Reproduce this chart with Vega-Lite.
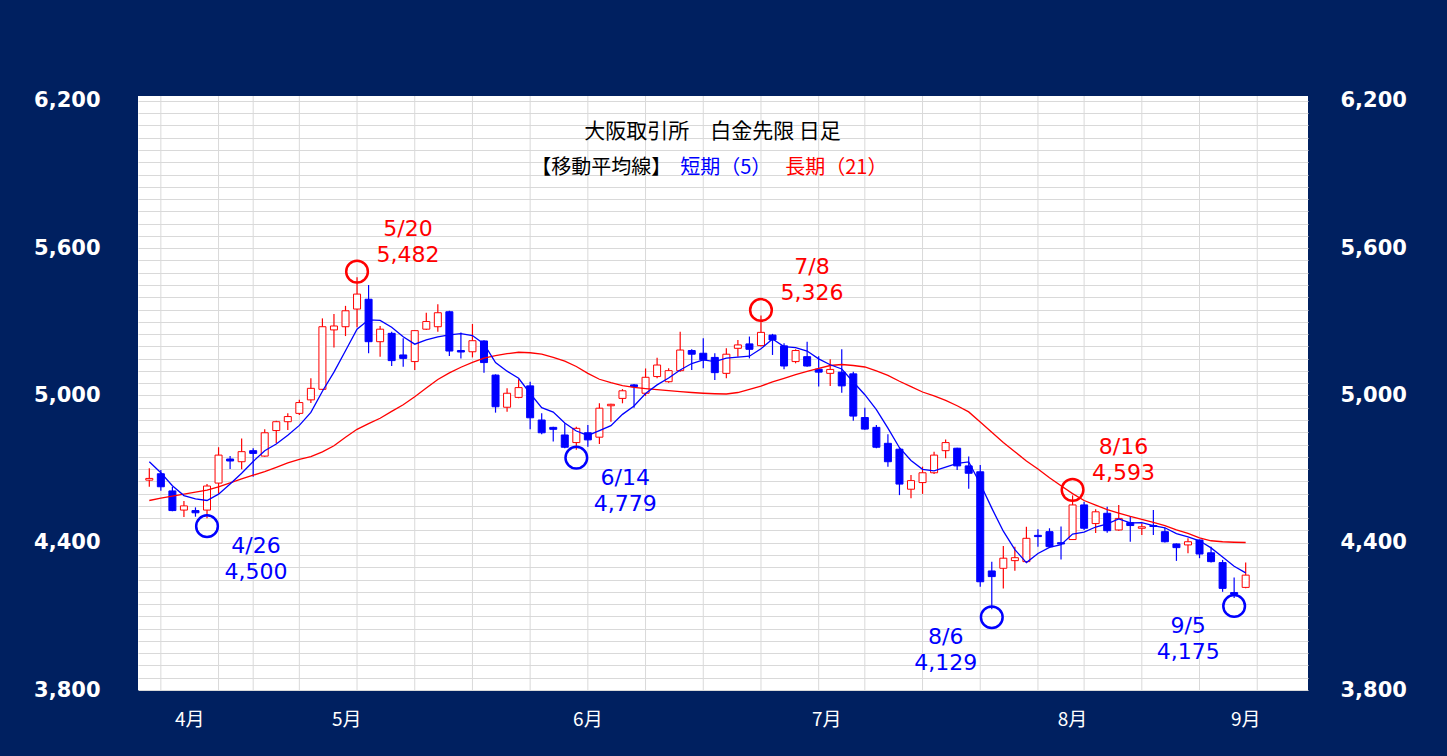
{
  "$schema": "https://vega.github.io/schema/vega-lite/v6.json",
  "width": 1170,
  "height": 594,
  "autosize": {"type": "none"},
  "padding": {"left": 138, "top": 96, "right": 139, "bottom": 66},
  "background": "#002060",
  "view": {"fill": "#ffffff", "stroke": null},
  "config": {"font": "DejaVu Sans"},
  "datasets": {
    "ohlc": [
      {"date":"4/19","i":0,"open":4655,"high":4703,"low":4628,"close":4662,"ma5":4730,"ma21":4572},
      {"date":"4/22","i":1,"open":4681,"high":4696,"low":4612,"close":4628,"ma5":4685,"ma21":4582},
      {"date":"4/23","i":2,"open":4611,"high":4628,"low":4528,"close":4531,"ma5":4632,"ma21":4590},
      {"date":"4/24","i":3,"open":4533,"high":4570,"low":4505,"close":4550,"ma5":4592,"ma21":4598},
      {"date":"4/25","i":4,"open":4531,"high":4544,"low":4506,"close":4522,"ma5":4579,"ma21":4606},
      {"date":"4/26","i":5,"open":4533,"high":4639,"low":4500,"close":4631,"ma5":4572,"ma21":4614},
      {"date":"4/30","i":6,"open":4643,"high":4789,"low":4600,"close":4757,"ma5":4598,"ma21":4628},
      {"date":"5/1","i":7,"open":4741,"high":4753,"low":4700,"close":4733,"ma5":4639,"ma21":4644},
      {"date":"5/2","i":8,"open":4730,"high":4825,"low":4699,"close":4771,"ma5":4683,"ma21":4660},
      {"date":"5/7","i":9,"open":4775,"high":4785,"low":4669,"close":4764,"ma5":4731,"ma21":4675},
      {"date":"5/8","i":10,"open":4753,"high":4862,"low":4750,"close":4848,"ma5":4775,"ma21":4690},
      {"date":"5/9","i":11,"open":4857,"high":4897,"low":4805,"close":4893,"ma5":4802,"ma21":4707},
      {"date":"5/10","i":12,"open":4893,"high":4927,"low":4859,"close":4914,"ma5":4838,"ma21":4725},
      {"date":"5/13","i":13,"open":4927,"high":4982,"low":4920,"close":4971,"ma5":4878,"ma21":4740},
      {"date":"5/14","i":14,"open":4982,"high":5070,"low":4969,"close":5029,"ma5":4931,"ma21":4751},
      {"date":"5/15","i":15,"open":5025,"high":5314,"low":5022,"close":5280,"ma5":5017,"ma21":4770},
      {"date":"5/16","i":16,"open":5267,"high":5332,"low":5195,"close":5283,"ma5":5095,"ma21":4795},
      {"date":"5/17","i":17,"open":5280,"high":5365,"low":5242,"close":5345,"ma5":5182,"ma21":4830},
      {"date":"5/20","i":18,"open":5352,"high":5482,"low":5278,"close":5413,"ma5":5270,"ma21":4862},
      {"date":"5/21","i":19,"open":5392,"high":5450,"low":5172,"close":5219,"ma5":5308,"ma21":4885},
      {"date":"5/22","i":20,"open":5219,"high":5283,"low":5158,"close":5270,"ma5":5306,"ma21":4907},
      {"date":"5/23","i":21,"open":5253,"high":5260,"low":5120,"close":5142,"ma5":5278,"ma21":4935},
      {"date":"5/24","i":22,"open":5165,"high":5233,"low":5117,"close":5151,"ma5":5239,"ma21":4962},
      {"date":"5/27","i":23,"open":5138,"high":5266,"low":5104,"close":5264,"ma5":5209,"ma21":4995},
      {"date":"5/28","i":24,"open":5270,"high":5337,"low":5267,"close":5301,"ma5":5226,"ma21":5030},
      {"date":"5/29","i":25,"open":5280,"high":5372,"low":5260,"close":5337,"ma5":5239,"ma21":5065},
      {"date":"5/30","i":26,"open":5341,"high":5345,"low":5161,"close":5181,"ma5":5247,"ma21":5092},
      {"date":"5/31","i":27,"open":5183,"high":5256,"low":5151,"close":5177,"ma5":5252,"ma21":5115},
      {"date":"6/3","i":28,"open":5178,"high":5291,"low":5155,"close":5223,"ma5":5244,"ma21":5135},
      {"date":"6/4","i":29,"open":5222,"high":5225,"low":5093,"close":5134,"ma5":5210,"ma21":5152},
      {"date":"6/5","i":30,"open":5083,"high":5086,"low":4930,"close":4954,"ma5":5134,"ma21":5162},
      {"date":"6/6","i":31,"open":4952,"high":5029,"low":4934,"close":5009,"ma5":5099,"ma21":5170},
      {"date":"6/7","i":32,"open":4992,"high":5066,"low":4989,"close":5032,"ma5":5070,"ma21":5176},
      {"date":"6/10","i":33,"open":5039,"high":5056,"low":4862,"close":4909,"ma5":5008,"ma21":5174},
      {"date":"6/11","i":34,"open":4900,"high":4927,"low":4842,"close":4848,"ma5":4950,"ma21":5168},
      {"date":"6/12","i":35,"open":4870,"high":4873,"low":4812,"close":4862,"ma5":4932,"ma21":5155},
      {"date":"6/13","i":36,"open":4839,"high":4887,"low":4785,"close":4789,"ma5":4888,"ma21":5140},
      {"date":"6/14","i":37,"open":4808,"high":4873,"low":4779,"close":4866,"ma5":4855,"ma21":5118},
      {"date":"6/17","i":38,"open":4848,"high":4880,"low":4791,"close":4819,"ma5":4837,"ma21":5090},
      {"date":"6/18","i":39,"open":4830,"high":4968,"low":4802,"close":4948,"ma5":4857,"ma21":5066},
      {"date":"6/19","i":40,"open":4958,"high":4966,"low":4893,"close":4964,"ma5":4877,"ma21":5052},
      {"date":"6/20","i":41,"open":4988,"high":5026,"low":4968,"close":5019,"ma5":4923,"ma21":5040},
      {"date":"6/21","i":42,"open":5043,"high":5047,"low":4950,"close":5036,"ma5":4957,"ma21":5033},
      {"date":"6/24","i":43,"open":5009,"high":5110,"low":4998,"close":5074,"ma5":5008,"ma21":5028},
      {"date":"6/25","i":44,"open":5077,"high":5154,"low":5070,"close":5124,"ma5":5043,"ma21":5024},
      {"date":"6/26","i":45,"open":5056,"high":5111,"low":5052,"close":5101,"ma5":5071,"ma21":5020},
      {"date":"6/27","i":46,"open":5101,"high":5260,"low":5097,"close":5185,"ma5":5104,"ma21":5016},
      {"date":"6/28","i":47,"open":5183,"high":5188,"low":5104,"close":5168,"ma5":5130,"ma21":5012},
      {"date":"7/1","i":48,"open":5172,"high":5233,"low":5111,"close":5145,"ma5":5145,"ma21":5009},
      {"date":"7/2","i":49,"open":5155,"high":5172,"low":5063,"close":5093,"ma5":5138,"ma21":5007},
      {"date":"7/3","i":50,"open":5090,"high":5192,"low":5070,"close":5168,"ma5":5152,"ma21":5006},
      {"date":"7/4","i":51,"open":5192,"high":5226,"low":5158,"close":5206,"ma5":5156,"ma21":5012},
      {"date":"7/5","i":52,"open":5210,"high":5240,"low":5151,"close":5188,"ma5":5160,"ma21":5025},
      {"date":"7/8","i":53,"open":5203,"high":5326,"low":5199,"close":5257,"ma5":5190,"ma21":5038},
      {"date":"7/9","i":54,"open":5246,"high":5251,"low":5165,"close":5226,"ma5":5230,"ma21":5055},
      {"date":"7/10","i":55,"open":5202,"high":5213,"low":5107,"close":5120,"ma5":5199,"ma21":5070},
      {"date":"7/11","i":56,"open":5138,"high":5188,"low":5131,"close":5183,"ma5":5195,"ma21":5085},
      {"date":"7/12","i":57,"open":5158,"high":5219,"low":5117,"close":5120,"ma5":5181,"ma21":5098},
      {"date":"7/16","i":58,"open":5107,"high":5160,"low":5036,"close":5095,"ma5":5149,"ma21":5110},
      {"date":"7/17","i":59,"open":5090,"high":5147,"low":5039,"close":5106,"ma5":5125,"ma21":5122},
      {"date":"7/18","i":60,"open":5095,"high":5188,"low":5011,"close":5039,"ma5":5108,"ma21":5126},
      {"date":"7/19","i":61,"open":5088,"high":5097,"low":4897,"close":4916,"ma5":5055,"ma21":5122},
      {"date":"7/22","i":62,"open":4910,"high":4950,"low":4860,"close":4863,"ma5":5003,"ma21":5116},
      {"date":"7/23","i":63,"open":4870,"high":4880,"low":4785,"close":4789,"ma5":4942,"ma21":5100},
      {"date":"7/24","i":64,"open":4805,"high":4842,"low":4710,"close":4730,"ma5":4867,"ma21":5082},
      {"date":"7/25","i":65,"open":4781,"high":4785,"low":4594,"close":4639,"ma5":4787,"ma21":5058},
      {"date":"7/26","i":66,"open":4618,"high":4676,"low":4581,"close":4653,"ma5":4735,"ma21":5036},
      {"date":"7/29","i":67,"open":4645,"high":4710,"low":4599,"close":4685,"ma5":4699,"ma21":5014},
      {"date":"7/30","i":68,"open":4685,"high":4771,"low":4680,"close":4757,"ma5":4693,"ma21":4998},
      {"date":"7/31","i":69,"open":4775,"high":4821,"low":4744,"close":4808,"ma5":4708,"ma21":4980},
      {"date":"8/1","i":70,"open":4785,"high":4787,"low":4696,"close":4713,"ma5":4723,"ma21":4958},
      {"date":"8/2","i":71,"open":4713,"high":4751,"low":4620,"close":4683,"ma5":4729,"ma21":4933},
      {"date":"8/5","i":72,"open":4689,"high":4717,"low":4221,"close":4241,"ma5":4640,"ma21":4892},
      {"date":"8/6","i":73,"open":4285,"high":4323,"low":4129,"close":4262,"ma5":4541,"ma21":4850},
      {"date":"8/7","i":74,"open":4296,"high":4387,"low":4214,"close":4337,"ma5":4447,"ma21":4808},
      {"date":"8/8","i":75,"open":4327,"high":4384,"low":4286,"close":4339,"ma5":4372,"ma21":4771},
      {"date":"8/9","i":76,"open":4323,"high":4465,"low":4319,"close":4418,"ma5":4319,"ma21":4733},
      {"date":"8/13","i":77,"open":4430,"high":4455,"low":4384,"close":4425,"ma5":4356,"ma21":4700},
      {"date":"8/14","i":78,"open":4445,"high":4459,"low":4381,"close":4384,"ma5":4381,"ma21":4665},
      {"date":"8/15","i":79,"open":4400,"high":4466,"low":4332,"close":4395,"ma5":4392,"ma21":4632},
      {"date":"8/16","i":80,"open":4413,"high":4593,"low":4411,"close":4554,"ma5":4435,"ma21":4600},
      {"date":"8/19","i":81,"open":4554,"high":4567,"low":4452,"close":4459,"ma5":4443,"ma21":4572},
      {"date":"8/20","i":82,"open":4478,"high":4536,"low":4440,"close":4526,"ma5":4464,"ma21":4553},
      {"date":"8/21","i":83,"open":4520,"high":4547,"low":4441,"close":4449,"ma5":4477,"ma21":4535},
      {"date":"8/22","i":84,"open":4452,"high":4554,"low":4449,"close":4499,"ma5":4497,"ma21":4521},
      {"date":"8/23","i":85,"open":4482,"high":4509,"low":4404,"close":4470,"ma5":4481,"ma21":4507},
      {"date":"8/26","i":86,"open":4459,"high":4479,"low":4431,"close":4465,"ma5":4482,"ma21":4495},
      {"date":"8/27","i":87,"open":4470,"high":4533,"low":4431,"close":4466,"ma5":4470,"ma21":4483},
      {"date":"8/28","i":88,"open":4445,"high":4461,"low":4401,"close":4404,"ma5":4461,"ma21":4470},
      {"date":"8/29","i":89,"open":4395,"high":4397,"low":4326,"close":4380,"ma5":4437,"ma21":4452},
      {"date":"8/30","i":90,"open":4391,"high":4418,"low":4357,"close":4404,"ma5":4424,"ma21":4438},
      {"date":"9/2","i":91,"open":4411,"high":4413,"low":4337,"close":4354,"ma5":4408,"ma21":4420},
      {"date":"9/3","i":92,"open":4359,"high":4384,"low":4319,"close":4323,"ma5":4379,"ma21":4408},
      {"date":"9/4","i":93,"open":4319,"high":4330,"low":4200,"close":4214,"ma5":4342,"ma21":4404},
      {"date":"9/5","i":94,"open":4197,"high":4258,"low":4175,"close":4190,"ma5":4304,"ma21":4402},
      {"date":"9/6","i":95,"open":4218,"high":4319,"low":4215,"close":4268,"ma5":4277,"ma21":4401}
    ],
    "weeks": [
      {"date":"4/22","i":1},{"date":"4/30","i":6},{"date":"5/7","i":9},{"date":"5/13","i":13},
      {"date":"5/20","i":18},{"date":"5/27","i":23},{"date":"6/3","i":28},{"date":"6/10","i":33},
      {"date":"6/17","i":38},{"date":"6/24","i":43},{"date":"7/1","i":48},{"date":"7/8","i":53},
      {"date":"7/16","i":58},{"date":"7/22","i":62},{"date":"7/29","i":67},{"date":"8/5","i":72},
      {"date":"8/13","i":77},{"date":"8/19","i":81},{"date":"8/26","i":86},{"date":"9/2","i":91},
      {"date":"9/9","i":96}
    ],
    "months": [
      {"month":"4月","i":3.5},{"month":"5月","i":17.1},{"month":"6月","i":38},
      {"month":"7月","i":58.7},{"month":"8月","i":80},{"month":"9月","i":95}
    ],
    "notes": [
      {"date":"4/26","i":5,"price":4500,"kind":"low","side":"right","label":"4/26\n4,500"},
      {"date":"5/20","i":18,"price":5482,"kind":"high","side":"right","label":"5/20\n5,482"},
      {"date":"6/14","i":37,"price":4779,"kind":"low","side":"right","label":"6/14\n4,779"},
      {"date":"7/8","i":53,"price":5326,"kind":"high","side":"right","label":"7/8\n5,326"},
      {"date":"8/6","i":73,"price":4129,"kind":"low","side":"left","label":"8/6\n4,129"},
      {"date":"8/16","i":80,"price":4593,"kind":"high","side":"right","label":"8/16\n4,593"},
      {"date":"9/5","i":94,"price":4175,"kind":"low","side":"left","label":"9/5\n4,175"}
    ],
    "captions": [
      {"role":"title","text":"大阪取引所　白金先限 日足"},
      {"role":"head","text":"【移動平均線】"},
      {"role":"short","text":"短期（5）"},
      {"role":"long","text":"長期（21）"}
    ]
  },
  "resolve": {"axis": {"y": "independent"}},
  "layer": [
    {
      "data": {"name": "weeks"},
      "mark": {"type": "rule", "color": "#d9d9d9", "strokeWidth": 1},
      "encoding": {
        "x": {"field": "i", "type": "quantitative", "scale": {"domain": [-0.98, 100.4], "nice": false, "zero": false, "padding": 0}, "axis": null}
      }
    },
    {
      "data": {"name": "ohlc"},
      "mark": {"type": "rule", "strokeWidth": 1.2},
      "encoding": {
        "x": {"field": "i", "type": "quantitative", "scale": {"domain": [-0.98, 100.4], "nice": false, "zero": false, "padding": 0}, "axis": null},
        "y": {"field": "low", "type": "quantitative", "scale": {"domain": [3800, 6220], "nice": false, "zero": false},
          "axis": {"orient": "left", "values": [3800,3850,3900,3950,4000,4050,4100,4150,4200,4250,4300,4350,4400,4450,4500,4550,4600,4650,4700,4750,4800,4850,4900,4950,5000,5050,5100,5150,5200,5250,5300,5350,5400,5450,5500,5550,5600,5650,5700,5750,5800,5850,5900,5950,6000,6050,6100,6150,6200],
            "labelExpr": "datum.value % 600 == 200 ? format(datum.value, ',') : ''",
            "grid": true, "gridColor": "#d9d9d9", "gridWidth": 1, "ticks": false, "domain": false, "title": null,
            "labelColor": "#ffffff", "labelFont": "DejaVu Sans", "labelFontSize": 21, "labelFontWeight": "bold", "labelPadding": 38, "labelOverlap": false, "labelBound": false}},
        "y2": {"field": "high"},
        "color": {"condition": {"test": "datum.close >= datum.open", "value": "#ff0000"}, "value": "#0000ff"}
      }
    },
    {
      "data": {"name": "ohlc"},
      "mark": {"type": "bar", "size": 7, "strokeWidth": 1},
      "encoding": {
        "x": {"field": "i", "type": "quantitative", "scale": {"domain": [-0.98, 100.4], "nice": false, "zero": false, "padding": 0}, "axis": null},
        "y": {"field": "open", "type": "quantitative", "scale": {"domain": [3800, 6220], "nice": false, "zero": false},
          "axis": {"orient": "right", "values": [3800, 4400, 5000, 5600, 6200], "labelExpr": "format(datum.value, ',')", "grid": false, "ticks": false, "domain": false, "title": null,
            "labelColor": "#ffffff", "labelFont": "DejaVu Sans", "labelFontSize": 21, "labelFontWeight": "bold", "labelPadding": 32, "labelAlign": "left", "labelOverlap": false, "labelBound": false}},
        "y2": {"field": "close"},
        "fill": {"condition": {"test": "datum.close >= datum.open", "value": "#ffffff"}, "value": "#0000ff"},
        "stroke": {"condition": {"test": "datum.close >= datum.open", "value": "#ff0000"}, "value": "#0000ff"}
      }
    },
    {
      "data": {"name": "ohlc"},
      "mark": {"type": "line", "color": "#ff0000", "strokeWidth": 1.3},
      "encoding": {
        "x": {"field": "i", "type": "quantitative", "scale": {"domain": [-0.98, 100.4], "nice": false, "zero": false, "padding": 0}, "axis": null},
        "y": {"field": "ma21", "type": "quantitative", "scale": {"domain": [3800, 6220], "nice": false, "zero": false}, "axis": null}
      }
    },
    {
      "data": {"name": "ohlc"},
      "mark": {"type": "line", "color": "#0000ff", "strokeWidth": 1.3},
      "encoding": {
        "x": {"field": "i", "type": "quantitative", "scale": {"domain": [-0.98, 100.4], "nice": false, "zero": false, "padding": 0}, "axis": null},
        "y": {"field": "ma5", "type": "quantitative", "scale": {"domain": [3800, 6220], "nice": false, "zero": false}, "axis": null}
      }
    },
    {
      "data": {"name": "notes"},
      "transform": [{"filter": "datum.kind == 'high'"}],
      "mark": {"type": "point", "shape": "circle", "filled": false, "color": "#ff0000", "strokeWidth": 2.5, "size": 470, "opacity": 1, "yOffset": -5.5},
      "encoding": {
        "x": {"field": "i", "type": "quantitative", "scale": {"domain": [-0.98, 100.4], "nice": false, "zero": false, "padding": 0}, "axis": null},
        "y": {"field": "price", "type": "quantitative", "scale": {"domain": [3800, 6220], "nice": false, "zero": false}, "axis": null}
      }
    },
    {
      "data": {"name": "notes"},
      "transform": [{"filter": "datum.kind == 'low'"}],
      "mark": {"type": "point", "shape": "circle", "filled": false, "color": "#0000ff", "strokeWidth": 2.5, "size": 470, "opacity": 1, "yOffset": 8},
      "encoding": {
        "x": {"field": "i", "type": "quantitative", "scale": {"domain": [-0.98, 100.4], "nice": false, "zero": false, "padding": 0}, "axis": null},
        "y": {"field": "price", "type": "quantitative", "scale": {"domain": [3800, 6220], "nice": false, "zero": false}, "axis": null}
      }
    },
    {
      "data": {"name": "notes"},
      "transform": [{"filter": "datum.kind == 'high'"}],
      "mark": {"type": "text", "color": "#ff0000", "font": "DejaVu Sans", "fontSize": 22, "align": "center", "baseline": "middle", "lineBreak": "\n", "lineHeight": 26, "dx": 51, "dy": -48},
      "encoding": {
        "x": {"field": "i", "type": "quantitative", "scale": {"domain": [-0.98, 100.4], "nice": false, "zero": false, "padding": 0}, "axis": null},
        "y": {"field": "price", "type": "quantitative", "scale": {"domain": [3800, 6220], "nice": false, "zero": false}, "axis": null},
        "text": {"field": "label"}
      }
    },
    {
      "data": {"name": "notes"},
      "transform": [{"filter": "datum.kind == 'low' && datum.side == 'right'"}],
      "mark": {"type": "text", "color": "#0000ff", "font": "DejaVu Sans", "fontSize": 22, "align": "center", "baseline": "middle", "lineBreak": "\n", "lineHeight": 26, "dx": 49, "dy": 28},
      "encoding": {
        "x": {"field": "i", "type": "quantitative", "scale": {"domain": [-0.98, 100.4], "nice": false, "zero": false, "padding": 0}, "axis": null},
        "y": {"field": "price", "type": "quantitative", "scale": {"domain": [3800, 6220], "nice": false, "zero": false}, "axis": null},
        "text": {"field": "label"}
      }
    },
    {
      "data": {"name": "notes"},
      "transform": [{"filter": "datum.kind == 'low' && datum.side == 'left'"}],
      "mark": {"type": "text", "color": "#0000ff", "font": "DejaVu Sans", "fontSize": 22, "align": "center", "baseline": "middle", "lineBreak": "\n", "lineHeight": 26, "dx": -46, "dy": 28},
      "encoding": {
        "x": {"field": "i", "type": "quantitative", "scale": {"domain": [-0.98, 100.4], "nice": false, "zero": false, "padding": 0}, "axis": null},
        "y": {"field": "price", "type": "quantitative", "scale": {"domain": [3800, 6220], "nice": false, "zero": false}, "axis": null},
        "text": {"field": "label"}
      }
    },
    {
      "data": {"name": "months"},
      "mark": {"type": "text", "color": "#ffffff", "font": "Noto Sans CJK JP", "fontSize": 19, "align": "center", "baseline": "middle"},
      "encoding": {
        "x": {"field": "i", "type": "quantitative", "scale": {"domain": [-0.98, 100.4], "nice": false, "zero": false, "padding": 0}, "axis": null},
        "y": {"datum": 3678, "type": "quantitative", "scale": {"domain": [3800, 6220], "nice": false, "zero": false}, "axis": null},
        "text": {"field": "month"}
      }
    },
    {
      "data": {"name": "captions"},
      "transform": [{"filter": "datum.role == 'title'"}],
      "mark": {"type": "text", "color": "#000000", "font": "Noto Sans CJK JP", "fontSize": 21, "align": "center", "baseline": "middle"},
      "encoding": {
        "x": {"datum": 48.8, "type": "quantitative", "scale": {"domain": [-0.98, 100.4], "nice": false, "zero": false, "padding": 0}, "axis": null},
        "y": {"datum": 6074, "type": "quantitative", "scale": {"domain": [3800, 6220], "nice": false, "zero": false}, "axis": null},
        "text": {"field": "text"}
      }
    },
    {
      "data": {"name": "captions"},
      "transform": [{"filter": "datum.role == 'head'"}],
      "mark": {"type": "text", "color": "#000000", "font": "Noto Sans CJK JP", "fontSize": 20, "align": "right", "baseline": "middle", "dx": -9},
      "encoding": {
        "x": {"datum": 46, "type": "quantitative", "scale": {"domain": [-0.98, 100.4], "nice": false, "zero": false, "padding": 0}, "axis": null},
        "y": {"datum": 5927, "type": "quantitative", "scale": {"domain": [3800, 6220], "nice": false, "zero": false}, "axis": null},
        "text": {"field": "text"}
      }
    },
    {
      "data": {"name": "captions"},
      "transform": [{"filter": "datum.role == 'short'"}],
      "mark": {"type": "text", "color": "#0000ff", "font": "Noto Sans CJK JP", "fontSize": 20, "align": "left", "baseline": "middle", "dx": 0},
      "encoding": {
        "x": {"datum": 46, "type": "quantitative", "scale": {"domain": [-0.98, 100.4], "nice": false, "zero": false, "padding": 0}, "axis": null},
        "y": {"datum": 5927, "type": "quantitative", "scale": {"domain": [3800, 6220], "nice": false, "zero": false}, "axis": null},
        "text": {"field": "text"}
      }
    },
    {
      "data": {"name": "captions"},
      "transform": [{"filter": "datum.role == 'long'"}],
      "mark": {"type": "text", "color": "#ff0000", "font": "Noto Sans CJK JP", "fontSize": 20, "align": "left", "baseline": "middle", "dx": 105},
      "encoding": {
        "x": {"datum": 46, "type": "quantitative", "scale": {"domain": [-0.98, 100.4], "nice": false, "zero": false, "padding": 0}, "axis": null},
        "y": {"datum": 5927, "type": "quantitative", "scale": {"domain": [3800, 6220], "nice": false, "zero": false}, "axis": null},
        "text": {"field": "text"}
      }
    }
  ]
}
